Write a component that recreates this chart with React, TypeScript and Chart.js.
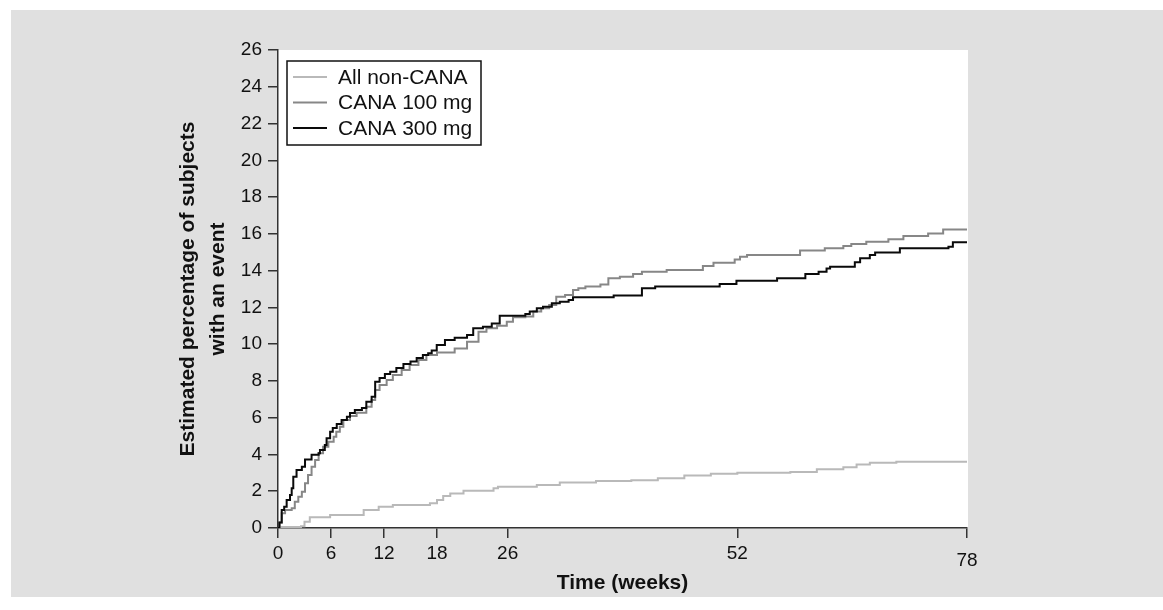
import React, { useEffect, useRef } from 'react';
import { Chart, registerables } from 'chart.js';

Chart.register(...registerables);

const xTickValues = [0, 6, 12, 18, 26, 52, 78];
const seriesLabels = ['All non-CANA', 'CANA 100 mg', 'CANA 300 mg'];

const nonCanaWeeks = [0, 0.3, 2.6, 3.0, 3.6, 5.9, 9.7, 11.4, 13.0, 17.2, 18.0, 18.7, 19.5, 21.0, 24.4, 24.9, 29.3, 31.9, 36, 40, 43, 46, 49, 52, 58, 61, 64, 65.5, 67, 70, 78];
const nonCanaPct = [0, 0.05, 0.1, 0.34, 0.58, 0.71, 0.98, 1.16, 1.25, 1.34, 1.52, 1.74, 1.88, 2.03, 2.16, 2.25, 2.34, 2.47, 2.55, 2.6, 2.7, 2.85, 2.95, 3.0, 3.05, 3.2, 3.3, 3.45, 3.55, 3.6, 3.64];

const cana100Weeks = [0, 0.2, 0.42, 0.8, 1.55, 1.9, 2.3, 2.7, 3.06, 3.4, 3.8, 4.2, 4.6, 5.1, 5.7, 6.3, 6.6, 7.0, 7.4, 8.15, 8.9, 10.0, 10.6, 11.0, 11.5, 12.3, 13.0, 14.0, 14.9, 15.9, 16.8, 18.0, 20.0, 21.4, 22.7, 23.6, 24.8, 25.9, 26.6, 28.0, 28.9, 29.8, 30.7, 31.5, 32.5, 33.4, 34.0, 34.8, 36.5, 37.4, 38.7, 40.2, 41.2, 44.0, 48.1, 49.3, 51.7, 52.3, 53.1, 59.1, 61.9, 64.0, 64.9, 66.6, 69.1, 70.8, 73.6, 75.3, 78];
const cana100Pct = [0, 0.3, 0.8, 0.98, 1.07, 1.43, 1.7, 1.97, 2.43, 2.88, 3.33, 3.7, 4.06, 4.42, 4.69, 4.97, 5.24, 5.51, 5.87, 6.09, 6.27, 6.6, 6.96, 7.5, 7.78, 8.05, 8.32, 8.59, 8.87, 9.14, 9.41, 9.54, 9.77, 10.13, 10.68, 10.86, 11.0, 11.22, 11.46, 11.5, 11.77, 11.95, 12.13, 12.58, 12.67, 12.94, 13.04, 13.13, 13.25, 13.58, 13.67, 13.82, 13.94, 14.03, 14.25, 14.43, 14.61, 14.76, 14.85, 15.09, 15.21, 15.34, 15.45, 15.57, 15.71, 15.88, 16.02, 16.24, 16.24];

const cana300Weeks = [0, 0.15, 0.42, 0.7, 0.98, 1.36, 1.55, 1.73, 2.1, 2.7, 3.06, 3.8, 4.6, 4.75, 5.3, 5.5, 5.9, 6.2, 6.65, 7.2, 7.8, 8.15, 8.7, 9.5, 10.0, 10.6, 11.0, 11.5, 12.1, 12.7, 13.4, 14.2, 15.0, 15.7, 16.4, 17.0, 17.4, 17.97, 18.9, 20.0, 21.4, 22.1, 23.2, 24.2, 25.1, 28.0, 28.5, 29.3, 30.0, 31.0, 31.9, 32.9, 33.4, 38.0, 41.2, 42.7, 50.0, 51.9, 56.5, 59.7, 61.2, 62.1, 62.5, 65.3, 65.9, 67.0, 67.6, 70.4, 75.9, 76.4, 78];
const cana300Pct = [0, 0.3, 0.98, 1.16, 1.52, 1.8, 2.16, 2.79, 3.15, 3.33, 3.72, 3.98, 4.06, 4.24, 4.51, 4.88, 5.24, 5.44, 5.66, 5.87, 6.05, 6.25, 6.42, 6.53, 6.87, 7.14, 7.96, 8.16, 8.38, 8.5, 8.7, 8.92, 9.05, 9.25, 9.41, 9.5, 9.65, 9.95, 10.23, 10.35, 10.5, 10.86, 10.95, 11.13, 11.55, 11.64, 11.77, 11.95, 12.04, 12.22, 12.31, 12.4, 12.55, 12.64, 13.04, 13.13, 13.27, 13.45, 13.58, 13.82, 13.94, 14.12, 14.21, 14.45, 14.67, 14.85, 14.98, 15.21, 15.3, 15.54, 15.57];

const FONT = '"Liberation Sans", Arial, Helvetica, sans-serif';

const toPoints = (xs: number[], ys: number[]) => xs.map((x, i) => ({ x, y: ys[i] }));

const plotBgPlugin = {
  id: 'plotBg',
  beforeDraw(chart: any) {
    const { ctx, chartArea } = chart;
    ctx.save();
    ctx.fillStyle = '#ffffff';
    ctx.fillRect(chartArea.left, chartArea.top, chartArea.right - chartArea.left + 1, chartArea.bottom - chartArea.top);
    ctx.restore();
  },
};

const boxLegendPlugin = {
  id: 'boxLegend',
  afterDraw(chart: any) {
    const { ctx, chartArea } = chart;
    const x0 = chartArea.left + 9;
    const y0 = chartArea.top + 11;
    const w = 194;
    const h = 84;
    ctx.save();
    ctx.fillStyle = '#ffffff';
    ctx.fillRect(x0, y0, w, h);
    ctx.strokeStyle = '#111';
    ctx.lineWidth = 1.5;
    ctx.strokeRect(x0, y0, w, h);
    ctx.font = '21px ' + FONT;
    ctx.textBaseline = 'middle';
    ctx.textAlign = 'left';
    chart.data.datasets.forEach((ds: any, i: number) => {
      const cy = y0 + 16 + i * 25.5;
      ctx.strokeStyle = ds.borderColor;
      ctx.lineWidth = ds.borderWidth;
      ctx.beginPath();
      ctx.moveTo(x0 + 6, cy);
      ctx.lineTo(x0 + 40, cy);
      ctx.stroke();
      ctx.fillStyle = '#111';
      ctx.fillText(ds.label, x0 + 51, cy + 1);
    });
    ctx.restore();
  },
};

export default function App() {
  const canvasRef = useRef<HTMLCanvasElement | null>(null);

  useEffect(() => {
    if (!canvasRef.current) return;
    const chart = new Chart(canvasRef.current, {
      type: 'line',
      data: {
        datasets: [
          {
            label: seriesLabels[0],
            data: toPoints(nonCanaWeeks, nonCanaPct),
            borderColor: '#b9b9b9',
            borderWidth: 2,
            stepped: true,
            pointRadius: 0,
            fill: false,
            order: 2,
          },
          {
            label: seriesLabels[1],
            data: toPoints(cana100Weeks, cana100Pct),
            borderColor: '#878787',
            borderWidth: 2,
            stepped: true,
            pointRadius: 0,
            fill: false,
            order: 1,
          },
          {
            label: seriesLabels[2],
            data: toPoints(cana300Weeks, cana300Pct),
            borderColor: '#0a0a0a',
            borderWidth: 2,
            stepped: true,
            pointRadius: 0,
            fill: false,
            order: 0,
          },
        ],
      },
      options: {
        animation: false,
        responsive: true,
        maintainAspectRatio: false,
        layout: { padding: { left: 162, top: 40, right: 196, bottom: 0 } },
        plugins: {
          legend: { display: false },
          tooltip: { enabled: false },
        },
        scales: {
          x: {
            type: 'linear',
            min: 0,
            max: 78,
            afterBuildTicks: (scale: any) => {
              scale.ticks = xTickValues.map((v) => ({ value: v }));
            },
            afterFit: (scale: any) => {
              scale.height = 69;
            },
            border: { display: true, color: '#333', width: 1.5 },
            grid: { display: true, drawOnChartArea: false, drawTicks: true, tickLength: 10, color: '#333', lineWidth: 1.5 },
            ticks: {
              autoSkip: false,
              maxRotation: 0,
              padding: 4,
              color: '#111',
              callback: (v: any) => (Number(v) === 78 ? ['', '78'] : String(v)),
              font: (ctx: any) => ({
                family: FONT,
                size: 19,
                lineHeight: ctx.tick && ctx.tick.value === 78 ? '12.3px' : 1.2,
              }),
            },
            title: {
              display: true,
              text: 'Time (weeks)',
              color: '#111',
              font: { family: FONT, size: 21, weight: 'bold', lineHeight: 1.2 },
              padding: { top: 0, bottom: 1.4 },
            },
          },
          y: {
            type: 'linear',
            min: 0,
            max: 26,
            afterFit: (scale: any) => {
              scale.width = 105;
            },
            border: { display: true, color: '#333', width: 1.5 },
            grid: { display: true, drawOnChartArea: false, drawTicks: true, tickLength: 10, color: '#333', lineWidth: 1.5 },
            ticks: {
              stepSize: 2,
              padding: 6,
              color: '#111',
              font: { family: FONT, size: 19 },
            },
            title: {
              display: true,
              text: ['Estimated percentage of subjects', 'with an event'],
              color: '#111',
              font: { family: FONT, size: 21, weight: 'bold', lineHeight: '30px' },
              padding: { top: 0, bottom: 0 },
            },
          },
        },
      },
      plugins: [plotBgPlugin, boxLegendPlugin],
    } as any);
    return () => chart.destroy();
  }, []);

  return (
    <div
      style={{
        position: 'fixed',
        left: 11,
        top: 10,
        width: 1152,
        height: 587,
        background: '#e0e0e0',
      }}
    >
      <canvas ref={canvasRef} />
    </div>
  );
}
